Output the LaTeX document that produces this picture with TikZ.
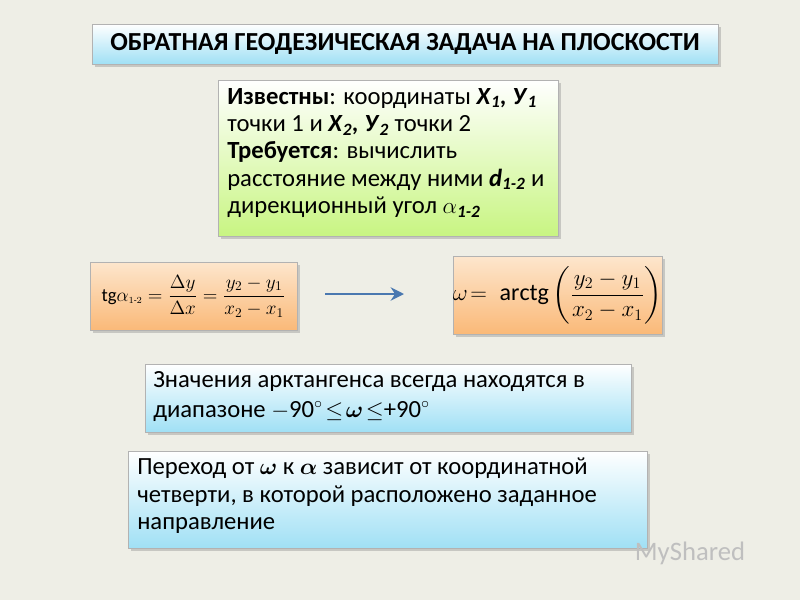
\documentclass[tikz,border=0pt]{standalone}
\usepackage{amsmath,amssymb,bm}
\usepackage{fontspec}
\setmainfont{Carlito}
\usetikzlibrary{shadows,arrows.meta}
\definecolor{bg}{HTML}{EEEEE6}
\definecolor{arr}{HTML}{4A78B0}
\tikzset{
 boxbase/.style={draw=black!30, line width=0.6pt, drop shadow={opacity=0.35,shadow xshift=2pt,shadow yshift=-2pt}},
 bluebox/.style={boxbase, top color=white, bottom color={rgb,255:red,160;green,224;blue,245}},
 greenbox/.style={boxbase, top color=white, bottom color={rgb,255:red,200;green,245;blue,130}},
 orangebox/.style={boxbase, top color={rgb,255:red,253;green,230;blue,205}, bottom color={rgb,255:red,250;green,185;blue,120}},
 txt/.style={anchor=north west, align=left, font=\fontsize{18.5}{20.5}\selectfont, inner sep=0pt},
}
\begin{document}
\begin{tikzpicture}[x=0.75pt,y=-0.75pt]
\fill[bg] (0,0) rectangle (800,600);
\useasboundingbox (0,0) rectangle (800,600);
% title
\path[bluebox] (92,24) rectangle (718,64);
\node (title) at (405,44) {\fontsize{19.5}{22}\selectfont\bfseries ОБРАТНАЯ ГЕОДЕЗИЧЕСКАЯ ЗАДАЧА НА ПЛОСКОСТИ};
% known box
\path[greenbox] (218,80) rectangle (558,236);
\node[txt] (known) at (227,88) {\textbf{Известны}: координаты \textbf{\textit{Х}\textsubscript{\textit{1}}}\textbf{\textit{, У}\textsubscript{\textit{1}}}\\
точки 1 и \textbf{\textit{Х}\textsubscript{\textit{2}}}\textbf{\textit{, У}\textsubscript{\textit{2}}} точки 2\\
\textbf{Требуется}: вычислить\\
расстояние между ними \textbf{\textit{d}\textsubscript{\textit{1-2}}} и\\
дирекционный угол $\alpha$\textbf{\textsubscript{\textit{1-2}}}};
% formula 1
\path[orangebox] (90,262) rectangle (297,330);
\node (f1) at (193.5,296) {\fontsize{14}{16}\selectfont$\mathrm{tg}\alpha_{\scriptscriptstyle 1\text{-}2}=\dfrac{\Delta y}{\Delta x}=\dfrac{y_2-y_1}{x_2-x_1}$};
% formula 2
\path[orangebox] (453,256) rectangle (662,334);
\node (f2) at (557.5,295) {\fontsize{18}{20}\selectfont$\omega\!=\;\mathrm{arctg}\left(\dfrac{y_2-y_1}{x_2-x_1}\right)$};
% arrow
\coordinate (a1) at (325,294);
\coordinate (a2) at (404,294);
\draw[-{Stealth[length=10pt,width=10pt]}, line width=2.2pt, draw=arr] (a1) -- (a2);
% blue box 1
\path[bluebox] (145,364) rectangle (631,432);
\node[txt] (b1) at (153,371) {Значения арктангенса всегда находятся в\\[2pt]
диапазоне $-$90$^\circ\!\leq\!\bm{\omega}\!\leq$+90$^\circ$};
% blue box 2
\path[bluebox] (128,451) rectangle (647,548);
\node[txt] (b2) at (137,458) {Переход от $\bm{\omega}$ к $\bm{\alpha}$ зависит от координатной\\
четверти, в которой расположено заданное\\
направление};
\node[text=black!25] (wm) at (690,553) {\fontsize{20}{22}\selectfont MyShared};
\end{tikzpicture}
\end{document}
